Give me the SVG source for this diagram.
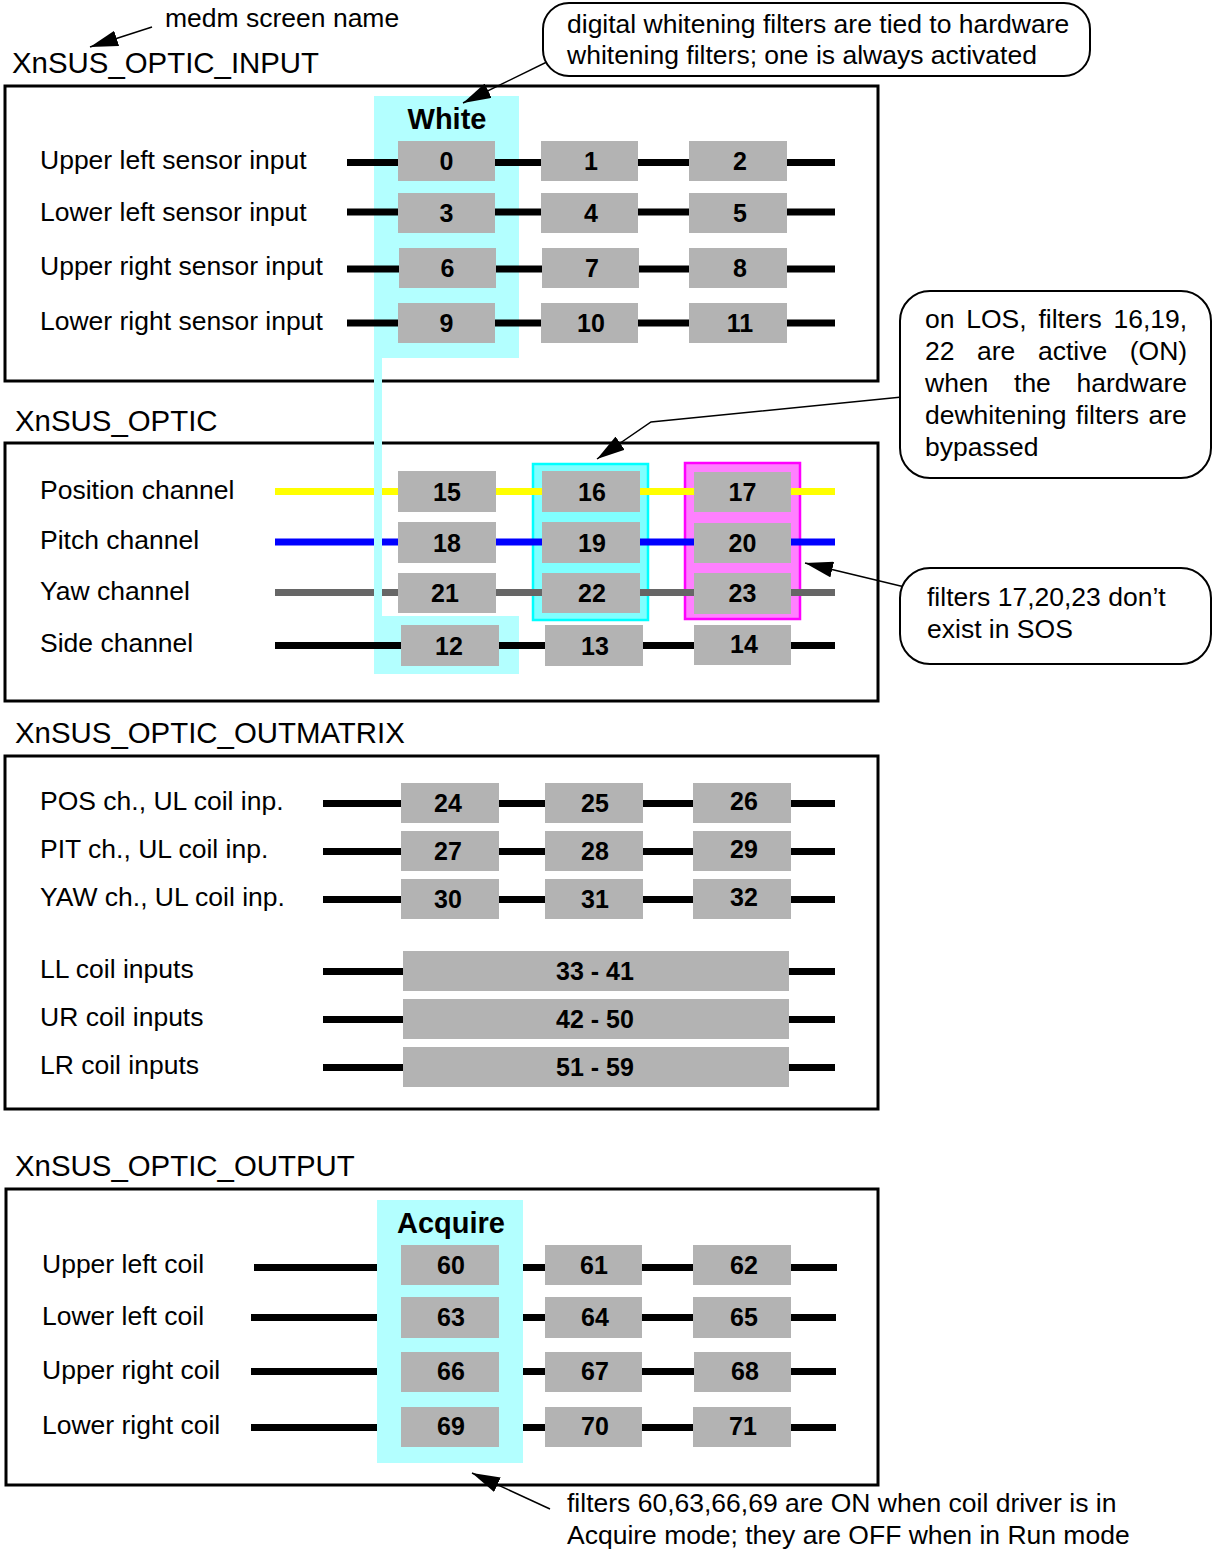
<svg xmlns="http://www.w3.org/2000/svg" width="1212" height="1551" viewBox="0 0 1212 1551">
<style>
text{font-family:"Liberation Sans",Arial,sans-serif;fill:#000}
.title{font-size:29.4px}
.lbl{font-size:26.5px}
.num{font-size:25px;font-weight:bold;text-anchor:middle}
.hdr{font-size:29px;font-weight:bold;text-anchor:middle}
.box{fill:#b3b3b3}
.frame{fill:none;stroke:#000;stroke-width:3}
.call{fill:#fff;stroke:#000;stroke-width:2}
.w{stroke-width:7;fill:none}
.k{stroke:#000}
.y{stroke:#ffff00}
.b{stroke:#0000ff}
.g{stroke:#666666}
.lead{stroke:#000;stroke-width:1.5;fill:none;marker-end:url(#ah)}
.lc{fill:#b3ffff}
</style>
<defs>
<marker id="ah" markerUnits="userSpaceOnUse" viewBox="0 0 28 16" refX="28" refY="8" markerWidth="28" markerHeight="16" orient="auto">
<path d="M0,0 L28,8 L0,16 z" fill="#000"/>
</marker>
</defs>
<rect width="1212" height="1551" fill="#fff"/>

<!-- titles -->
<g id="titles">
<text class="title" x="12" y="73">XnSUS_OPTIC_INPUT</text>
<text class="title" x="15" y="431">XnSUS_OPTIC</text>
<text class="title" x="15" y="743">XnSUS_OPTIC_OUTMATRIX</text>
<text class="title" x="15" y="1176">XnSUS_OPTIC_OUTPUT</text>
</g>

<!-- frames -->
<g id="frames">
<rect class="frame" x="5" y="86" width="873" height="295"/>
<rect class="frame" x="5" y="443" width="873" height="258"/>
<rect class="frame" x="5" y="756" width="873" height="353"/>
<rect class="frame" x="6" y="1189" width="872" height="296"/>
</g>

<!-- highlight regions -->
<g id="white-group">
<rect class="lc" x="374" y="96" width="145" height="262"/>
<text class="hdr" x="447" y="129">White</text>
</g>
<g id="white-bottom">
<rect class="lc" x="374" y="616" width="145" height="58"/>
</g>
<g id="los-group">
<rect x="533" y="464" width="115" height="156" fill="#80ffff" stroke="#00ffff" stroke-width="2.5"/>
</g>
<g id="sos-group">
<rect x="685" y="463" width="115" height="156" fill="#ff80ff" stroke="#ff00ff" stroke-width="2.5"/>
</g>

<!-- connectors -->
<g id="connectors">
<line class="w k" x1="347" y1="162.5" x2="835" y2="162.5"/>
<line class="w k" x1="347" y1="212" x2="835" y2="212"/>
<line class="w k" x1="347" y1="269" x2="835" y2="269"/>
<line class="w k" x1="347" y1="323" x2="835" y2="323"/>

<line class="w y" x1="275" y1="491.5" x2="835" y2="491.5"/>
<line class="w b" x1="275" y1="542" x2="835" y2="542"/>
<line class="w g" x1="275" y1="592.5" x2="835" y2="592.5"/>
<rect class="lc" x="374" y="358" width="8" height="258"/>
<line class="w k" x1="275" y1="645.5" x2="835" y2="645.5"/>

<line class="w k" x1="323" y1="803.5" x2="835" y2="803.5"/>
<line class="w k" x1="323" y1="851.5" x2="835" y2="851.5"/>
<line class="w k" x1="323" y1="899.5" x2="835" y2="899.5"/>
<line class="w k" x1="323" y1="971.5" x2="835" y2="971.5"/>
<line class="w k" x1="323" y1="1019.5" x2="835" y2="1019.5"/>
<line class="w k" x1="323" y1="1067.5" x2="835" y2="1067.5"/>

<line class="w k" x1="254" y1="1267.5" x2="837" y2="1267.5"/>
<line class="w k" x1="251" y1="1317.5" x2="836" y2="1317.5"/>
<line class="w k" x1="251" y1="1371.5" x2="836" y2="1371.5"/>
<line class="w k" x1="251" y1="1427.5" x2="836" y2="1427.5"/>

<line class="lead" x1="152" y1="27" x2="90" y2="47"/>
<line class="lead" x1="557" y1="57" x2="463" y2="103"/>
<polyline class="lead" points="912,396 651,422 597,459"/>
<line class="lead" x1="913" y1="589" x2="805" y2="563"/>
<line class="lead" x1="550" y1="1509" x2="472" y2="1473"/>
</g>

<g id="acquire-group">
<rect class="lc" x="377" y="1200" width="146" height="263"/>
<text class="hdr" x="451" y="1233">Acquire</text>
</g>

<!-- labels -->
<g id="labels">
<text class="lbl" x="40" y="169">Upper left sensor input</text>
<text class="lbl" x="40" y="221">Lower left sensor input</text>
<text class="lbl" x="40" y="275">Upper right sensor input</text>
<text class="lbl" x="40" y="330">Lower right sensor input</text>
<text class="lbl" x="40" y="499">Position channel</text>
<text class="lbl" x="40" y="549">Pitch channel</text>
<text class="lbl" x="40" y="600">Yaw channel</text>
<text class="lbl" x="40" y="652">Side channel</text>
<text class="lbl" x="40" y="810">POS ch., UL coil inp.</text>
<text class="lbl" x="40" y="858">PIT ch., UL coil inp.</text>
<text class="lbl" x="40" y="906">YAW ch., UL coil inp.</text>
<text class="lbl" x="40" y="978">LL coil inputs</text>
<text class="lbl" x="40" y="1026">UR coil inputs</text>
<text class="lbl" x="40" y="1074">LR coil inputs</text>
<text class="lbl" x="42" y="1273">Upper left coil</text>
<text class="lbl" x="42" y="1325">Lower left coil</text>
<text class="lbl" x="42" y="1379">Upper right coil</text>
<text class="lbl" x="42" y="1434">Lower right coil</text>
</g>

<!-- filter nodes: input -->
<g id="f0"><rect class="box" x="398" y="141" width="97" height="40"/><text class="num" x="446.5" y="170">0</text></g>
<g id="f1"><rect class="box" x="541" y="141" width="97" height="40"/><text class="num" x="591" y="170">1</text></g>
<g id="f2"><rect class="box" x="689" y="141" width="98" height="40"/><text class="num" x="740" y="170">2</text></g>
<g id="f3"><rect class="box" x="398" y="193" width="97" height="40"/><text class="num" x="446.5" y="222">3</text></g>
<g id="f4"><rect class="box" x="541" y="193" width="97" height="40"/><text class="num" x="591" y="222">4</text></g>
<g id="f5"><rect class="box" x="689" y="193" width="98" height="40"/><text class="num" x="740" y="222">5</text></g>
<g id="f6"><rect class="box" x="399" y="248" width="97" height="40"/><text class="num" x="447.5" y="277">6</text></g>
<g id="f7"><rect class="box" x="542" y="248" width="97" height="40"/><text class="num" x="592" y="277">7</text></g>
<g id="f8"><rect class="box" x="689" y="248" width="98" height="40"/><text class="num" x="740" y="277">8</text></g>
<g id="f9"><rect class="box" x="398" y="303" width="97" height="40"/><text class="num" x="446.5" y="332">9</text></g>
<g id="f10"><rect class="box" x="541" y="303" width="97" height="40"/><text class="num" x="591" y="332">10</text></g>
<g id="f11"><rect class="box" x="689" y="303" width="98" height="40"/><text class="num" x="740" y="332">11</text></g>

<!-- filter nodes: optic -->
<g id="f15"><rect class="box" x="398" y="471" width="98" height="41"/><text class="num" x="447" y="501">15</text></g>
<g id="f16"><rect class="box" x="542" y="471" width="98" height="41"/><text class="num" x="592" y="501">16</text></g>
<g id="f17"><rect class="box" x="694" y="472" width="97" height="40"/><text class="num" x="742.5" y="501">17</text></g>
<g id="f18"><rect class="box" x="398" y="522" width="98" height="41"/><text class="num" x="447" y="552">18</text></g>
<g id="f19"><rect class="box" x="542" y="522" width="98" height="41"/><text class="num" x="592" y="552">19</text></g>
<g id="f20"><rect class="box" x="694" y="523" width="97" height="40"/><text class="num" x="742.5" y="552">20</text></g>
<g id="f21"><rect class="box" x="398" y="573" width="98" height="40"/><text class="num" x="445" y="602">21</text></g>
<g id="f22"><rect class="box" x="542" y="573" width="98" height="40"/><text class="num" x="592" y="602">22</text></g>
<g id="f23"><rect class="box" x="694" y="573" width="97" height="41"/><text class="num" x="742.5" y="602">23</text></g>
<g id="f12"><rect class="box" x="401" y="625" width="98" height="41"/><text class="num" x="449" y="655">12</text></g>
<g id="f13"><rect class="box" x="545" y="625" width="98" height="41"/><text class="num" x="595" y="655">13</text></g>
<g id="f14"><rect class="box" x="694" y="625" width="97" height="40"/><text class="num" x="744" y="653">14</text></g>

<!-- filter nodes: outmatrix -->
<g id="f24"><rect class="box" x="401" y="783" width="98" height="40"/><text class="num" x="448" y="812">24</text></g>
<g id="f25"><rect class="box" x="545" y="783" width="98" height="40"/><text class="num" x="595" y="812">25</text></g>
<g id="f26"><rect class="box" x="693" y="783" width="98" height="40"/><text class="num" x="744" y="810">26</text></g>
<g id="f27"><rect class="box" x="401" y="831" width="98" height="40"/><text class="num" x="448" y="860">27</text></g>
<g id="f28"><rect class="box" x="545" y="831" width="98" height="40"/><text class="num" x="595" y="860">28</text></g>
<g id="f29"><rect class="box" x="693" y="831" width="98" height="40"/><text class="num" x="744" y="858">29</text></g>
<g id="f30"><rect class="box" x="401" y="879" width="98" height="40"/><text class="num" x="448" y="908">30</text></g>
<g id="f31"><rect class="box" x="545" y="879" width="98" height="40"/><text class="num" x="595" y="908">31</text></g>
<g id="f32"><rect class="box" x="693" y="879" width="98" height="40"/><text class="num" x="744" y="906">32</text></g>
<g id="f33-41"><rect class="box" x="403" y="951" width="386" height="40"/><text class="num" x="595" y="980">33 - 41</text></g>
<g id="f42-50"><rect class="box" x="403" y="999" width="386" height="40"/><text class="num" x="595" y="1028">42 - 50</text></g>
<g id="f51-59"><rect class="box" x="403" y="1047" width="386" height="40"/><text class="num" x="595" y="1076">51 - 59</text></g>

<!-- filter nodes: output -->
<g id="f60"><rect class="box" x="401" y="1245" width="98" height="40"/><text class="num" x="451" y="1274">60</text></g>
<g id="f61"><rect class="box" x="545" y="1245" width="97" height="40"/><text class="num" x="594" y="1274">61</text></g>
<g id="f62"><rect class="box" x="693" y="1245" width="98" height="40"/><text class="num" x="744" y="1274">62</text></g>
<g id="f63"><rect class="box" x="401" y="1297" width="98" height="41"/><text class="num" x="451" y="1326">63</text></g>
<g id="f64"><rect class="box" x="545" y="1297" width="97" height="41"/><text class="num" x="595" y="1326">64</text></g>
<g id="f65"><rect class="box" x="693" y="1297" width="98" height="41"/><text class="num" x="744" y="1326">65</text></g>
<g id="f66"><rect class="box" x="401" y="1352" width="98" height="40"/><text class="num" x="451" y="1380">66</text></g>
<g id="f67"><rect class="box" x="545" y="1352" width="97" height="40"/><text class="num" x="595" y="1380">67</text></g>
<g id="f68"><rect class="box" x="694" y="1352" width="97" height="40"/><text class="num" x="745" y="1380">68</text></g>
<g id="f69"><rect class="box" x="401" y="1407" width="98" height="40"/><text class="num" x="451" y="1435">69</text></g>
<g id="f70"><rect class="box" x="545" y="1407" width="97" height="40"/><text class="num" x="595" y="1435">70</text></g>
<g id="f71"><rect class="box" x="693" y="1407" width="98" height="40"/><text class="num" x="743" y="1435">71</text></g>

<!-- annotations -->
<g id="note-medm">
<text class="lbl" x="165" y="27">medm screen name</text>
</g>
<g id="note-whitening">
<rect class="call" x="543" y="3" width="547" height="73" rx="26"/>
<text class="lbl" x="567" y="33">digital whitening filters are tied to hardware</text>
<text class="lbl" x="567" y="64">whitening filters; one is always activated</text>
</g>
<g id="note-los">
<rect class="call" x="900" y="291" width="311" height="187" rx="30"/>
<text class="lbl" x="925" y="328" word-spacing="4.4">on LOS, filters 16,19,</text>
<text class="lbl" x="925" y="360" word-spacing="15.2">22 are active (ON)</text>
<text class="lbl" x="925" y="392" word-spacing="18.3">when the hardware</text>
<text class="lbl" x="925" y="424" word-spacing="2">dewhitening filters are</text>
<text class="lbl" x="925" y="456">bypassed</text>
</g>
<g id="note-sos">
<rect class="call" x="900" y="568" width="311" height="96" rx="30"/>
<text class="lbl" x="927" y="606">filters 17,20,23 don’t</text>
<text class="lbl" x="927" y="638">exist in SOS</text>
</g>
<g id="note-acquire">
<text class="lbl" x="567" y="1512">filters 60,63,66,69 are ON when coil driver is in</text>
<text class="lbl" x="567" y="1544">Acquire mode; they are OFF when in Run mode</text>
</g>
</svg>
